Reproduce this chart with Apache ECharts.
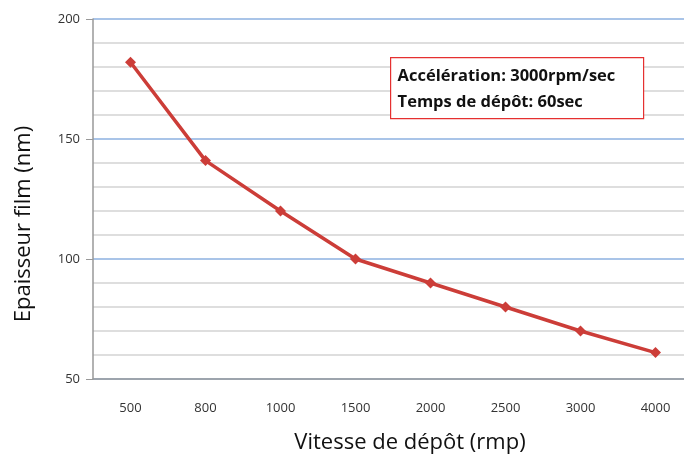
<!DOCTYPE html>
<html><head><meta charset="utf-8">
<script src="https://cdn.jsdelivr.net/npm/echarts@6/dist/echarts.min.js"></script>
<style>html,body{margin:0;padding:0;background:#fff}#c{width:684px;height:459px}</style>
</head><body><div id="c"></div>
<script>
const categories = ['500','800','1000','1500','2000','2500','3000','4000'];
const thickness = [182, 141, 120, 100, 90, 80, 70, 61];
const yTicks = [50, 100, 150, 200];
const noteLines = ['Accélération: 3000rpm/sec', 'Temps de dépôt: 60sec'];

const chart = echarts.init(document.getElementById('c'));
const font = '"Open Sans", "DejaVu Sans", sans-serif';
chart.setOption({
  animation: false,
  grid: {left: 93, top: 19, width: 600, height: 360, outerBoundsMode: 'none'},
  xAxis: {
    type: 'category', data: categories, boundaryGap: true,
    name: 'Vitesse de dépôt (rmp)', nameLocation: 'middle', nameGap: 53,
    nameTextStyle: {fontFamily: font, fontSize: 22, color: '#111', padding: [0, 0, 0, 34]},
    axisLine: {lineStyle: {color: '#999', width: 1.5}},
    axisTick: {show: false},
    axisLabel: {fontFamily: font, fontSize: 13, color: '#333', margin: 23},
    splitLine: {show: false}
  },
  yAxis: {
    type: 'value', min: yTicks[0], max: yTicks[yTicks.length - 1], interval: 50,
    name: 'Epaisseur film (nm)', nameLocation: 'middle', nameGap: 58,
    nameTextStyle: {fontFamily: font, fontSize: 22, color: '#111', padding: [0, 50, 0, 0]},
    axisLine: {show: true, lineStyle: {color: '#999', width: 1.5}},
    axisTick: {show: true, length: 7, lineStyle: {color: '#999'}},
    axisLabel: {fontFamily: font, fontSize: 13, color: '#333', margin: 13},
    splitLine: {show: true, lineStyle: {color: '#8db0e0', width: 1.5}},
    minorTick: {show: false, splitNumber: 5},
    minorSplitLine: {show: true, lineStyle: {color: '#d4d4d4', width: 1.5}}
  },
  series: [{
    type: 'line', data: thickness,
    symbol: 'diamond', symbolSize: 11,
    lineStyle: {color: '#cc3d38', width: 3.5},
    itemStyle: {color: '#cc3d38'}
  }],
  graphic: [{
    type: 'group', left: 390, top: 57, z: 100,
    children: [
      {type: 'rect', z: 100, shape: {x: 0, y: 0, width: 253, height: 61},
       style: {fill: '#fff', stroke: '#e53030', lineWidth: 1.2}},
      {type: 'text', z: 101, x: 7, y: 10, style: {text: noteLines[0], fontFamily: font, fontWeight: 'bold', fontSize: 16.5, fill: '#111'}},
      {type: 'text', z: 101, x: 7, y: 36, style: {text: noteLines[1], fontFamily: font, fontWeight: 'bold', fontSize: 16.5, fill: '#111'}}
    ]
  }]
});
</script></body></html>
